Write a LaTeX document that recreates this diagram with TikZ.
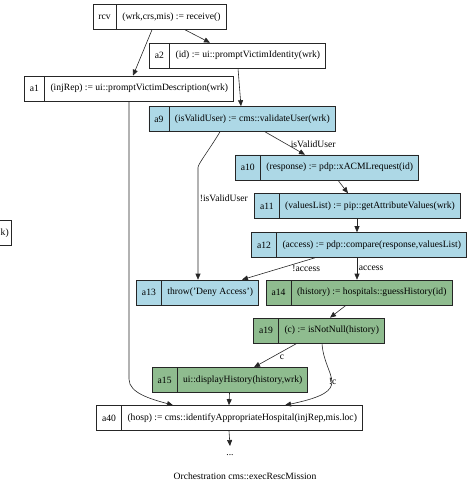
\documentclass[tikz,border=0pt]{standalone}
\usepackage{fontspec}
\setmainfont{Liberation Serif}
\usetikzlibrary{shapes.multipart,arrows.meta}

\definecolor{actBlue}{RGB}{173,216,230}
\definecolor{actGreen}{RGB}{143,188,143}

\begin{document}
\begin{tikzpicture}[x=1pt, y=-1pt,
        act/.style={rectangle split, rectangle split horizontal, rectangle split parts=2, draw=black!85, fill=white, minimum height=25pt, inner xsep=5.5pt, inner ysep=0pt, font=\fontsize{9.6}{11}\selectfont, line width=0.6pt},
        blueact/.style={act, fill=actBlue},
        greenact/.style={act, fill=actGreen},
        flow/.style={draw=black!85, line width=0.6pt, -{Triangle[length=6pt,width=5pt]}},
        lbl/.style={font=\fontsize{9.6}{11}\selectfont, inner sep=1.5pt},
        plain/.style={font=\fontsize{9.6}{11}\selectfont, inner sep=0pt}
    ]
        \clip (0,0) rectangle (469,481);
        \node[rectangle, draw=black!85, fill=white, line width=0.6pt, minimum height=25pt, text width=40pt, align=right, inner xsep=3pt, font=\fontsize{9.6}{11}\selectfont, anchor=east] (cut) at (12,233) {k)};
        \node[act] (rcv) at (159.5,17) {rcv \nodepart{two} (wrk,crs,mis) := receive()};
        \node[act] (a2) at (237.5,55.5) {a2 \nodepart{two} (id) := ui::promptVictimIdentity(wrk)};
        \node[act] (a1) at (129,88.5) {a1 \nodepart{two} (injRep) := ui::promptVictimDescription(wrk)};
        \node[blueact] (a9) at (242,119) {a9 \nodepart{two} (isValidUser) := cms::validateUser(wrk)};
        \node[blueact] (a10) at (327,167.5) {a10 \nodepart{two} (response) := pdp::xACMLrequest(id)};
        \node[blueact] (a11) at (357.5,206) {a11 \nodepart{two} (valuesList) := pip::getAttributeValues(wrk)};
        \node[blueact] (a12) at (359,245) {a12 \nodepart{two} (access) := pdp::compare(response,valuesList)};
        \node[blueact] (a13) at (197.5,292.5) {a13 \nodepart{two} throw('Deny Access')};
        \node[greenact] (a14) at (359,292.5) {a14 \nodepart{two} (history) := hospitals::guessHistory(id)};
        \node[greenact] (a19) at (319,330.5) {a19 \nodepart{two} (c) := isNotNull(history)};
        \node[greenact] (a15) at (230,380) {a15 \nodepart{two} ui::displayHistory(history,wrk)};
        \node[act] (a40) at (229.5,418) {a40 \nodepart{two} (hosp) := cms::identifyAppropriateHospital(injRep,mis.loc)};
        \node[plain, text height=9pt, text depth=0pt, anchor=north] (dots) at (230,446) {...};
        \node[plain] (title) at (245,476) {Orchestration cms::execRescMission};

        \draw[flow] ([xshift=-7.5pt]rcv.south) -- ([xshift=4pt]a1.north);
        \draw[flow] ([xshift=25.5pt]rcv.south) -- ([xshift=-27.5pt]a2.north);
        \draw[flow] ([xshift=0.5pt]a2.south) -- ([xshift=-1pt]a9.north);
        \draw[flow] ([xshift=23pt]a9.south) -- node[lbl, anchor=west, pos=0.55, xshift=2pt] {isValidUser} ([xshift=-22pt]a10.north);
        \draw[flow] ([xshift=-22pt]a9.south) .. controls ([xshift=-34pt,yshift=-20pt]a9.south) and ([xshift=-44pt,yshift=-32pt]a9.south) .. ([xshift=0.5pt,yshift=112pt]a13.north) -- node[lbl, anchor=west, pos=0.27] {!isValidUser} ([xshift=0.5pt]a13.north);
        \draw[flow] ([xshift=11pt]a10.south) -- ([xshift=-9.5pt]a11.north);
        \draw[flow] ([xshift=-0.5pt]a11.south) -- ([xshift=-2pt]a12.north);
        \draw[flow] ([xshift=-44pt]a12.south) -- node[lbl, anchor=west, pos=0.5, xshift=12pt] {!access} ([xshift=44.5pt]a13.north);
        \draw[flow] ([xshift=-2pt]a12.south) -- node[lbl, anchor=west, pos=0.5] {access} ([xshift=-2pt]a14.north);
        \draw[flow] ([xshift=-13pt]a14.south) -- ([xshift=11pt]a19.north);
        \draw[flow] ([xshift=-22pt]a19.south) -- node[lbl, anchor=west, pos=0.58, xshift=6pt] {c} ([xshift=24pt]a15.north);
        \draw[flow] ([xshift=3pt]a19.south) .. controls ([xshift=5pt,yshift=-35pt]a19.south) and ([xshift=-6pt,yshift=15pt]a40.north east) .. node[lbl, anchor=west, pos=0.5, xshift=-4pt] {!c} ([xshift=55.5pt]a40.north);
        \draw[flow] (a1.south) -- ([yshift=26pt]a1.south |- a40.north) .. controls ([yshift=12pt]a1.south |- a40.north) and ([xshift=-78pt,yshift=6pt]a40.north) .. ([xshift=-56.5pt]a40.north);
        \draw[flow] ([xshift=-0.5pt]a15.south) -- ([xshift=-0.5pt]a40.north);
        \draw[flow] ([xshift=-0.5pt]a40.south) -- (dots.north);
    \end{tikzpicture}
\end{document}
